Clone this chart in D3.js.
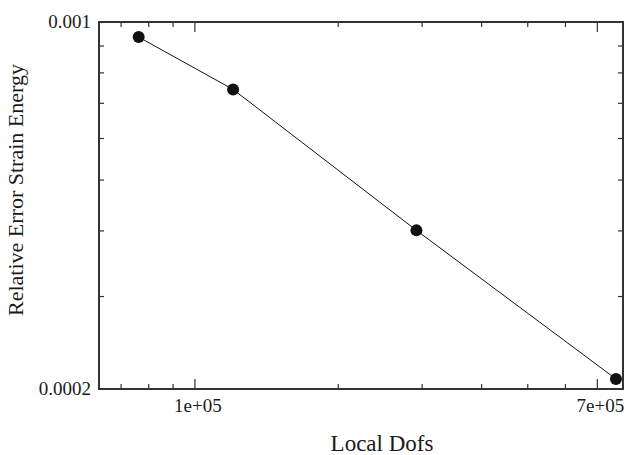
<!DOCTYPE html>
<html>
<head>
<meta charset="utf-8">
<script src="https://cdn.jsdelivr.net/npm/d3@7"></script>
</head>
<body style="margin:0;background:#fff">
<svg id="chart" width="627" height="455" style="display:block"></svg>
<script>
// Convergence data: local degrees of freedom vs relative error in strain energy
const localDofs = [76200, 120300, 291900, 766000];
const relError = [0.000936, 0.000744, 0.000401, 0.000209];

// Axis extents and labelled ticks
const xDomain = [62900, 792500];
const yDomain = [0.0002, 0.001];
const xMajorTicks = [1e5, 7e5];
const xMajorLabels = ["1e+05", "7e+05"];
const xMinorTicks = [7e4, 8e4, 9e4, 2e5, 3e5, 4e5, 5e5, 6e5];
const yMajorTicks = [0.0002, 0.001];
const yMajorLabels = ["0.0002", "0.001"];
const yMinorTicks = [0.0003, 0.0004, 0.0005, 0.0006, 0.0007, 0.0008, 0.0009];

const xTitle = "Local Dofs";
const yTitle = "Relative Error Strain Energy";

const serif = "'Liberation Serif'";
const margin = { left: 99, right: 4, top: 22, bottom: 66 };
const W = 627, H = 455;
const svg = d3.select("#chart");

const x = d3.scaleLog().domain(xDomain).range([margin.left, W - margin.right]);
const y = d3.scaleLog().domain(yDomain).range([H - margin.bottom, margin.top]);

const x0 = x.range()[0], x1 = x.range()[1];
const y0 = y.range()[0], y1 = y.range()[1];
const ink = "#1a1a1a";

// Inward ticks on all four sides
const g = svg.append("g").attr("stroke", "#333").attr("stroke-width", 1.2);
function xTicks(vals, len) {
  vals.forEach(v => {
    const px = x(v);
    g.append("line").attr("x1", px).attr("x2", px).attr("y1", y0).attr("y2", y0 - len);
    g.append("line").attr("x1", px).attr("x2", px).attr("y1", y1).attr("y2", y1 + len);
  });
}
function yTicks(vals, len) {
  vals.forEach(v => {
    const py = y(v);
    g.append("line").attr("y1", py).attr("y2", py).attr("x1", x0).attr("x2", x0 + len);
    g.append("line").attr("y1", py).attr("y2", py).attr("x1", x1).attr("x2", x1 - len);
  });
}
xTicks(xMinorTicks, 5);
xTicks(xMajorTicks, 10);
yTicks(yMinorTicks, 5);

// Frame
svg.append("rect")
  .attr("x", x0).attr("y", y1)
  .attr("width", x1 - x0).attr("height", y0 - y1)
  .attr("fill", "none").attr("stroke", "#333").attr("stroke-width", 2);

// Tick labels
svg.selectAll("text.xl").data(xMajorTicks).enter().append("text")
  .attr("class", "xl")
  .attr("x", d => x(d) + 3)
  .attr("y", y0 + 23)
  .attr("text-anchor", "middle")
  .style("font-family", serif)
  .style("font-size", "19px")
  .attr("fill", ink)
  .text((d, i) => xMajorLabels[i]);

svg.selectAll("text.yl").data(yMajorTicks).enter().append("text")
  .attr("class", "yl")
  .attr("x", x0 - 8)
  .attr("y", d => y(d) + 6)
  .attr("text-anchor", "end")
  .style("font-family", serif)
  .style("font-size", "19px")
  .attr("fill", ink)
  .text((d, i) => yMajorLabels[i]);

// Axis titles
svg.append("text")
  .attr("x", 382).attr("y", 451)
  .attr("text-anchor", "middle")
  .style("font-family", serif)
  .style("font-size", "23px")
  .attr("fill", ink)
  .text(xTitle);

svg.append("text")
  .attr("transform", "translate(23,190) rotate(-90)")
  .attr("text-anchor", "middle")
  .style("font-family", serif)
  .style("font-size", "22px")
  .attr("fill", ink)
  .text(yTitle);

// Data line and markers
const pts = localDofs.map((d, i) => [d, relError[i]]);
svg.append("path")
  .datum(pts)
  .attr("fill", "none")
  .attr("stroke", "#111")
  .attr("stroke-width", 1)
  .attr("d", d3.line().x(d => x(d[0])).y(d => y(d[1])));

svg.selectAll("circle").data(pts).enter().append("circle")
  .attr("cx", d => x(d[0]))
  .attr("cy", d => y(d[1]))
  .attr("r", 6)
  .attr("fill", "#111");
</script>
</body>
</html>
